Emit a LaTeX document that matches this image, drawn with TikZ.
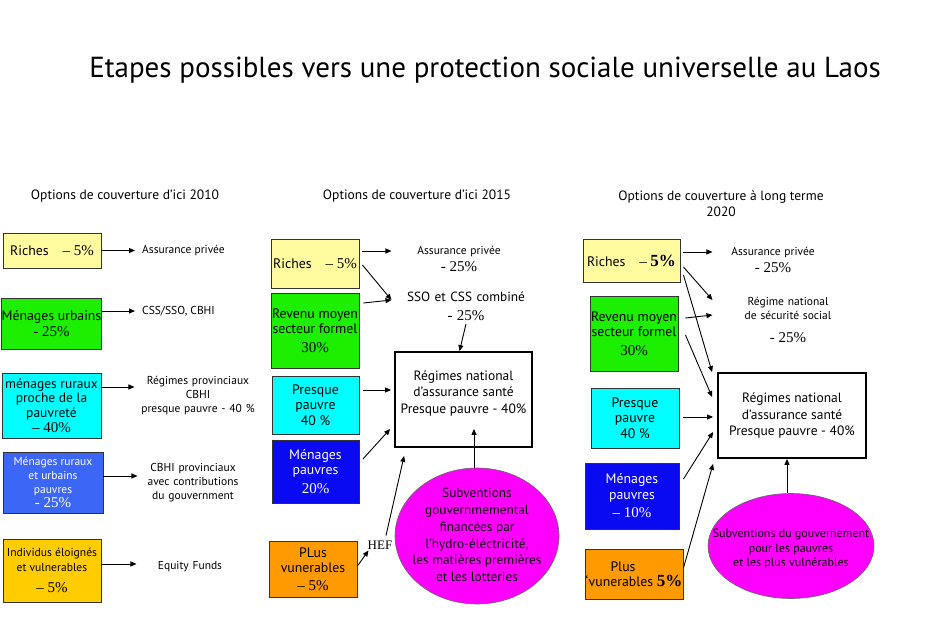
\documentclass[tikz,border=0pt]{standalone}
\usepackage{fontspec}
\setmainfont{PT Sans}
\newfontfamily\numfont{Liberation Serif}
\usepackage{xcolor}
\usepackage{tikz}
\usetikzlibrary{shapes,arrows.meta,positioning,calc}

\definecolor{richyellow}{HTML}{FFFB9E}
\definecolor{midgreen}{HTML}{1CF000}
\definecolor{nearcyan}{HTML}{00FFFF}
\definecolor{lightblue}{HTML}{3C66F5}
\definecolor{deepblue}{HTML}{0A0AF2}
\definecolor{vulgold}{HTML}{FFCC00}
\definecolor{vulorange}{HTML}{FF9A00}
\definecolor{subpink}{HTML}{FF00FF}

\newcommand{\pcval}[1]{{\numfont\fontsize{15}{15}\selectfont #1}}
\newcommand{\pcbig}[1]{{\numfont\bfseries\fontsize{17}{17}\selectfont #1}}

\begin{document}
\begin{tikzpicture}[x=1pt, y=-1pt,
    grp/.style={draw=black!80, line width=0.9pt, align=center, inner sep=0pt, font=\fontsize{13.8}{15.5}\selectfont},
    natbox/.style={draw=black, line width=1.8pt, align=center, inner sep=0pt, font=\fontsize{13.5}{16.8}\selectfont},
    note/.style={align=center, font=\fontsize{11.5}{14}\selectfont},
    head/.style={align=center, font=\fontsize{13.5}{16.5}\selectfont},
    blob/.style={ellipse, draw=black!60, line width=0.6pt, fill=subpink},
    arr/.style={-{Triangle[length=6pt,width=5pt]}, line width=0.9pt}]
    \useasboundingbox (0,0) rectangle (927,618);

    \node[font=\fontsize{29}{34}\selectfont] (title) at (485,70) {Etapes possibles vers une protection sociale universelle au Laos};

    % 2010
    \node[head] (head10) at (125,196) {Options de couverture d’ici 2010};
    \node[grp, fill=richyellow, minimum width=98pt, minimum height=35pt] (rich10) at (52,250.5) {Riches\quad\pcval{– 5\%}};
    \node[grp, fill=midgreen, minimum width=99pt, minimum height=51pt] (urb10) at (51.5,323.5) {Ménages urbains\\\pcval{- 25\%}};
    \node[grp, fill=nearcyan, minimum width=99pt, minimum height=65pt, font=\fontsize{13.5}{14.8}\selectfont] (rur10) at (51.5,405.5) {ménages ruraux\\proche de la\\pauvreté\\\pcval{– 40\%}};
    \node[grp, fill=lightblue, text=white, minimum width=100pt, minimum height=61pt, font=\fontsize{11.5}{14}\selectfont] (pov10) at (53,482.5) {Ménages ruraux\\et urbains\\pauvres\\\pcval{- 25\%}};
    \node[grp, fill=vulgold, minimum width=98pt, minimum height=63pt, font=\fontsize{11.6}{15}\selectfont] (vul10) at (52,570.5) {Individus éloignés\\et vulnerables\\[6pt]\pcval{– 5\%}};

    \node[note, anchor=west, inner xsep=7pt] (ap10) at (135,250.5) {Assurance privée};
    \node[note, anchor=west, inner xsep=7pt] (css10) at (135,311) {CSS/SSO, CBHI};
    \node[note, text width=120pt] (prov10) at (198,396) {Régimes provinciaux\\CBHI\\presque pauvre - 40 \%};
    \node[note, text width=104pt] (cbhi10) at (193,483) {CBHI provinciaux\\avec contributions\\du gouvernment};
    \node[note, text width=100pt] (eq10) at (190,567) {Equity Funds};

    \draw[arr] (rich10.east) -- (ap10.west);
    \draw[arr] ([yshift=12.5pt]urb10.east) -- (css10.west);
    \draw[arr] ([yshift=18.5pt]rur10.east) -- ([yshift=9pt]prov10.west);
    \draw[arr] ([yshift=6.5pt]pov10.east) -- ([yshift=7pt]cbhi10.west);
    \draw[arr] ([yshift=6.5pt]vul10.east) -- ([yshift=3pt]eq10.west);

    % 2015
    \node[head] (head15) at (417,196) {Options de couverture d’ici 2015};
    \node[grp, fill=richyellow, minimum width=88pt, minimum height=49pt] (rich15) at (315,263.5) {Riches\quad\pcval{– 5\%}};
    \node[grp, fill=midgreen, minimum width=88pt, minimum height=75pt] (rev15) at (315,330.5) {Revenu moyen\\secteur formel\\[3pt]\pcval{30\%}};
    \node[grp, fill=nearcyan, minimum width=87pt, minimum height=58pt] (pp15) at (315.5,405) {Presque\\pauvre\\40 \%};
    \node[grp, fill=deepblue, text=white, minimum width=87pt, minimum height=63pt] (mp15) at (315.5,471.5) {Ménages\\pauvres\\[3pt]\pcval{20\%}};
    \node[grp, fill=vulorange, minimum width=88pt, minimum height=56pt] (pv15) at (313,569) {PLus\\vunerables\\[2pt]\pcval{– 5\%}};

    \node[note, text width=128pt] (ap15) at (459,259) {Assurance privée\\[3pt]\pcval{- 25\%}};
    \node[note, text width=142pt, font=\fontsize{13.3}{16}\selectfont] (sso15) at (466,306) {SSO et CSS combiné\\[3pt]\pcval{- 25\%}};
    \node[natbox, minimum width=137pt, minimum height=95pt] (reg15) at (463.5,399.5) {Régimes national\\d’assurance santé\\Presque pauvre - 40\%\\[-2pt]\mbox{}};
    \node[font=\numfont\fontsize{13}{13}\selectfont, inner sep=1pt] (hef) at (380,545) {HEF};
    \node[blob, minimum width=164pt, minimum height=136pt] (sub15) at (477,536) {};
    \node[note, font=\fontsize{13.3}{16.8}\selectfont] (sub15txt) at (477,535) {Subventions\\gouvernmemental\\financées par\\l’hydro-éléctricité,\\les matières premières\\et les lotteries};

    \draw[arr] ([xshift=3pt,yshift=12.5pt]rich15.east) -- ([yshift=8pt]ap15.west);
    \draw[arr] ([xshift=3pt,yshift=-1.5pt]rich15.east) -- ([yshift=6pt]sso15.west);
    \draw[arr] ([xshift=4pt,yshift=27.5pt]rev15.east) -- ([yshift=6pt]sso15.west);
    \draw[arr] (sso15.south) -- ([xshift=-4pt]reg15.north);
    \draw[arr] ([xshift=3.5pt,yshift=15pt]pp15.east) -- ([xshift=-3pt,yshift=9.5pt]reg15.west);
    \draw[arr] ([xshift=3.5pt,yshift=12.5pt]mp15.east) -- ([xshift=-4pt,yshift=-29.5pt]reg15.west);
    \draw[arr] ([yshift=3pt]pv15.east) -- ([xshift=2pt]hef.south west);
    \draw[arr] ([xshift=6pt,yshift=4pt]hef.north) -- ([xshift=10pt,yshift=-8pt]reg15.south west);
    \draw[arr] ([xshift=-3pt]sub15.north) -- ([xshift=10.5pt,yshift=19pt]reg15.south);

    % 2020
    \node[head] (head20) at (721,203.5) {Options de couverture à long terme\\2020};
    \node[grp, fill=richyellow, minimum width=97pt, minimum height=43pt] (rich20) at (631.5,260.5) {Riches\quad\pcval{–} \pcbig{5\%}};
    \node[grp, fill=midgreen, minimum width=88pt, minimum height=75pt] (rev20) at (634,333.5) {Revenu moyen\\secteur formel\\[3pt]\pcval{30\%}};
    \node[grp, fill=nearcyan, minimum width=88pt, minimum height=60pt] (pp20) at (635,418) {Presque\\pauvre\\40 \%};
    \node[grp, fill=deepblue, text=white, minimum width=94pt, minimum height=66pt] (mp20) at (632,496) {Ménages\\pauvres\\[3pt]\pcval{– 10\%}};
    \node[grp, fill=vulorange, minimum width=98pt, minimum height=50pt] (pv20) at (634,574) {Plus\hspace*{22pt}\\{\char"60}vunerables \pcbig{5\%}};

    \node[note, text width=114pt] (ap20) at (773,260) {Assurance privée\\[3pt]\pcval{- 25\%}};
    \node[note, text width=144pt] (rng20) at (788,320) {Régime national\\de sécurité social\\[9pt]\pcval{- 25\%}};
    \node[natbox, minimum width=148pt, minimum height=85pt] (reg20) at (792,415.5) {Régimes national\\d’assurance santé\\Presque pauvre - 40\%};
    \node[blob, minimum width=166pt, minimum height=105pt] (sub20) at (791,546) {};
    \node[note, font=\fontsize{12}{14.5}\selectfont] (sub20txt) at (791,549) {Subventions du gouvernement\\pour les pauvres\\et les plus vulnérables};

    \draw[arr] ([xshift=3pt,yshift=8.5pt]rich20.east) -- ([yshift=8pt]ap20.west);
    \draw[arr] ([xshift=3pt,yshift=-6.5pt]rich20.east) -- ([yshift=20pt]rng20.west);
    \draw[arr] ([xshift=3pt,yshift=-14.5pt]rich20.east) -- ([xshift=-5pt]reg20.north west);
    \draw[arr] ([xshift=7pt,yshift=15.5pt]rev20.east) -- ([yshift=5pt]rng20.west);
    \draw[arr] ([xshift=7pt,yshift=-1.5pt]rev20.east) -- ([xshift=-5pt,yshift=18.5pt]reg20.west);
    \draw[arr] ([xshift=4pt,yshift=1pt]pp20.east) -- ([xshift=-4pt,yshift=-1.5pt]reg20.west);
    \draw[arr] ([xshift=4pt,yshift=17pt]mp20.east) -- ([xshift=-4pt,yshift=-16.5pt]reg20.west);
    \draw[arr] ([yshift=6pt]pv20.east) -- ([xshift=-4pt,yshift=-5pt]reg20.south west);
    \draw[arr] ([xshift=-4pt]sub20.north) -- ([xshift=-5pt]reg20.south);
\end{tikzpicture}
\end{document}
